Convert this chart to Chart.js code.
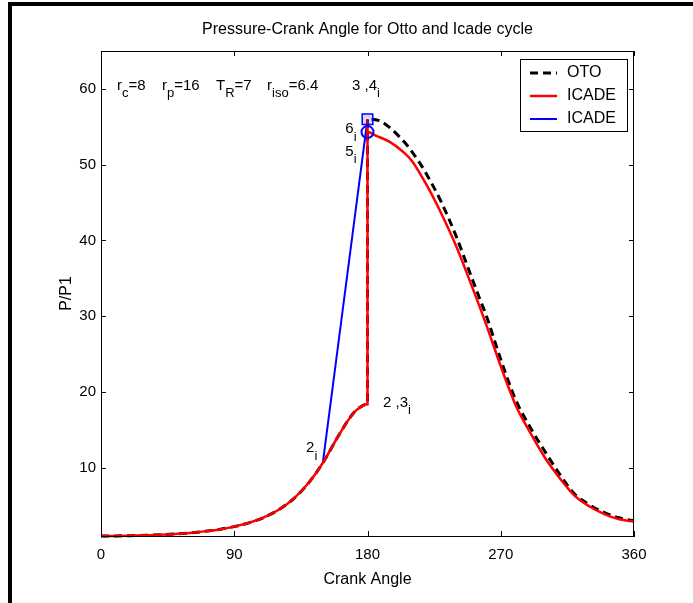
<!DOCTYPE html>
<html>
<head>
<meta charset="utf-8">
<script src="https://cdn.jsdelivr.net/npm/chart.js@4.4.0/dist/chart.umd.min.js"></script>
<style>
  html, body { margin: 0; padding: 0; background: #fff; }
  #wrap { width: 693px; height: 603px; position: relative; }
</style>
</head>
<body>
<div id="wrap"><canvas id="myChart" width="693" height="603"></canvas></div>
<script>
// Pressure vs crank angle
const ottoAngle = [0, 10, 20, 30, 40, 50, 60, 70, 80, 90, 100, 110, 120, 130, 140, 150, 160, 170, 175, 180,
  180, 188, 195, 200, 207, 215, 220, 230, 240, 250, 256, 260, 270, 280, 290, 300, 310, 320, 330, 340, 350, 360];
const ottoP = [1.0, 1.01, 1.04, 1.09, 1.16, 1.27, 1.41, 1.61, 1.87, 2.24, 2.74, 3.45, 4.46, 5.9, 7.95, 10.7, 14.1, 17.1, 18.0, 18.4,
  56.0, 55.8, 54.9, 54.0, 52.5, 50.3, 48.7, 45.0, 40.5, 35.3, 32.2, 30.2, 24.3, 19.0, 15.3, 12.1, 9.1, 6.5, 5.1, 4.1, 3.4, 3.0];

const icadeAngle = [0, 10, 20, 30, 40, 50, 60, 70, 80, 90, 100, 110, 120, 130, 140, 150, 160, 170, 175, 180,
  180, 180, 186, 195, 204, 210, 220, 230, 240, 250, 260, 270, 280, 290, 300, 310, 320, 330, 340, 350, 360];
const icadeP = [1.0, 1.01, 1.04, 1.09, 1.16, 1.27, 1.41, 1.61, 1.87, 2.24, 2.74, 3.45, 4.46, 5.9, 7.95, 10.7, 14.1, 17.1, 18.0, 18.4,
  56.0, 54.3, 53.8, 53.0, 51.7, 50.5, 47.3, 43.5, 39.2, 34.2, 29.0, 23.4, 18.3, 14.6, 11.3, 8.6, 6.3, 4.9, 3.9, 3.2, 2.9];

// straight branch of the Icade cycle (blue)
const blueAngle = [150, 180];
const blueP = [10.9, 56.0];

// marked states
const squareAngle = [180];
const squareP = [56.0];
const circleAngle = [180];
const circleP = [54.3];

const xTicks = [0, 90, 180, 270, 360];
const yTicks = [10, 20, 30, 40, 50, 60];

const FONT = "'Liberation Sans', Arial, Helvetica, sans-serif";

function pts(xs, ys) {
  return xs.map((v, i) => ({ x: v, y: ys[i] }));
}

// text with subscripts: parts = [[text, sub], ...]
function drawParts(ctx, parts, px, py, size) {
  let cx = px;
  ctx.textAlign = "left";
  ctx.textBaseline = "middle";
  for (const [t, s] of parts) {
    ctx.font = size + "px " + FONT;
    ctx.fillText(t, cx, py);
    cx += ctx.measureText(t).width;
    if (s) {
      ctx.font = Math.round(size * 0.87) + "px " + FONT;
      ctx.fillText(s, cx, py + 8);
      cx += ctx.measureText(s).width;
    }
  }
}

const matlabFrame = {
  id: "matlabFrame",
  afterDraw(chart) {
    const { ctx, chartArea: a, scales: { x, y } } = chart;
    ctx.save();
    ctx.fillStyle = "#000";
    ctx.strokeStyle = "#000";

    // box and inward ticks
    ctx.lineWidth = 1;
    ctx.strokeRect(a.left + 0.5, a.top + 0.5, a.right - a.left - 1, a.bottom - a.top);
    ctx.beginPath();
    xTicks.forEach((v) => {
      const px = Math.round(x.getPixelForValue(v)) + 0.5;
      ctx.moveTo(px, a.bottom); ctx.lineTo(px, a.bottom - 5);
      ctx.moveTo(px, a.top); ctx.lineTo(px, a.top + 5);
    });
    yTicks.forEach((v) => {
      const py = Math.round(y.getPixelForValue(v)) + 0.5;
      ctx.moveTo(a.left, py); ctx.lineTo(a.left + 5, py);
      ctx.moveTo(a.right, py); ctx.lineTo(a.right - 5, py);
    });
    ctx.stroke();

    // figure border (left and top edges show)
    ctx.lineWidth = 4;
    ctx.beginPath();
    ctx.moveTo(10, 700); ctx.lineTo(10, 4); ctx.lineTo(800, 4);
    ctx.stroke();

    // title and axis labels
    ctx.textAlign = "center";
    ctx.textBaseline = "middle";
    ctx.font = "16px " + FONT;
    ctx.fillText("Pressure-Crank Angle for Otto and Icade cycle", (a.left + a.right) / 2, 30);
    ctx.fillText("Crank Angle", (a.left + a.right) / 2, 580);
    ctx.save();
    ctx.translate(67, (a.top + a.bottom) / 2);
    ctx.rotate(-Math.PI / 2);
    ctx.fillText("P/P1", 0, 0);
    ctx.restore();

    // annotations
    const X = (v) => x.getPixelForValue(v);
    const Y = (v) => y.getPixelForValue(v);
    drawParts(ctx, [["r", "c"], ["=8", ""]], X(10.8), Y(60.4), 15);
    drawParts(ctx, [["r", "p"], ["=16", ""]], X(41.2), Y(60.4), 15);
    drawParts(ctx, [["T", "R"], ["=7", ""]], X(77.7), Y(60.4), 15);
    drawParts(ctx, [["r", "iso"], ["=6.4", ""]], X(112.2), Y(60.4), 15);
    drawParts(ctx, [["3 ,4", "i"]], X(169.5), Y(60.4), 15);
    drawParts(ctx, [["6", "i"]], X(165), Y(54.7), 15);
    drawParts(ctx, [["5", "i"]], X(165), Y(51.7), 15);
    drawParts(ctx, [["2 ,3", "i"]], X(190.5), Y(18.6), 15);
    drawParts(ctx, [["2", "i"]], X(138.5), Y(12.6), 15);

    // legend box inside the axes
    const lx = 520, ly = 59, lw = 107, lh = 72;
    ctx.fillStyle = "#fff";
    ctx.fillRect(lx, ly, lw, lh);
    ctx.lineWidth = 1;
    ctx.strokeRect(lx + 0.5, ly + 0.5, lw, lh);
    const entries = chart.data.datasets.filter((d) => d.inLegend);
    entries.forEach((d, i) => {
      const cy = ly + 14 + i * 23;
      ctx.strokeStyle = d.borderColor;
      ctx.lineWidth = d.borderWidth;
      ctx.setLineDash(d.borderDash || []);
      ctx.beginPath();
      ctx.moveTo(lx + 10, cy); ctx.lineTo(lx + 37, cy);
      ctx.stroke();
      ctx.setLineDash([]);
      ctx.fillStyle = "#000";
      ctx.font = "16px " + FONT;
      ctx.textAlign = "left";
      ctx.fillText(d.label, lx + 47, cy);
    });
    ctx.restore();
  }
};

new Chart(document.getElementById("myChart"), {
  type: "line",
  data: {
    datasets: [
      {
        label: "OTO",
        inLegend: true,
        order: 2,
        data: pts(ottoAngle, ottoP),
        borderColor: "#000",
        borderWidth: 3,
        borderDash: [8, 5],
        pointRadius: 0,
        cubicInterpolationMode: "monotone",
        clip: false,
      },
      {
        label: "ICADE",
        inLegend: true,
        order: 1,
        data: pts(icadeAngle, icadeP),
        borderColor: "#ff0000",
        borderWidth: 2.5,
        pointRadius: 0,
        cubicInterpolationMode: "monotone",
        clip: false,
      },
      {
        label: "ICADE",
        inLegend: true,
        order: 1,
        data: pts(blueAngle, blueP),
        borderColor: "#0000ff",
        borderWidth: 2,
        pointRadius: 0,
        tension: 0,
        clip: false,
      },
      {
        label: "state 3,4",
        order: 0,
        data: pts(squareAngle, squareP),
        showLine: false,
        pointStyle: "rect",
        pointRadius: 7.5,
        pointBorderColor: "#0000ff",
        pointBorderWidth: 1.5,
        pointBackgroundColor: "rgba(0,0,255,0.15)",
        clip: false,
      },
      {
        label: "state 6",
        order: 0,
        data: pts(circleAngle, circleP),
        showLine: false,
        pointStyle: "circle",
        pointRadius: 6,
        pointBorderColor: "#0000ff",
        pointBorderWidth: 2,
        pointBackgroundColor: "rgba(0,0,0,0)",
        clip: false,
      },
    ],
  },
  options: {
    responsive: false,
    animation: false,
    devicePixelRatio: 1,
    layout: { padding: { left: 0, top: 51, right: 59, bottom: 0 } },
    plugins: {
      legend: { display: false },
      title: { display: false },
      tooltip: { enabled: false },
    },
    scales: {
      x: {
        type: "linear",
        min: 0,
        max: 360,
        afterBuildTicks: (s) => { s.ticks = xTicks.map((v) => ({ value: v })); },
        afterFit: (s) => { s.height = 67; },
        grid: { display: false, drawTicks: false },
        border: { display: true, color: "#000" },
        ticks: { color: "#000", padding: 10, font: { family: FONT, size: 15 } },
      },
      y: {
        type: "linear",
        min: 1,
        max: 65,
        afterBuildTicks: (s) => { s.ticks = yTicks.map((v) => ({ value: v })); },
        afterFit: (s) => { s.width = 101; },
        grid: { display: false, drawTicks: false },
        border: { display: true, color: "#000" },
        ticks: { color: "#000", padding: 5, font: { family: FONT, size: 15 } },
      },
    },
  },
  plugins: [matlabFrame],
});
</script>
</body>
</html>
